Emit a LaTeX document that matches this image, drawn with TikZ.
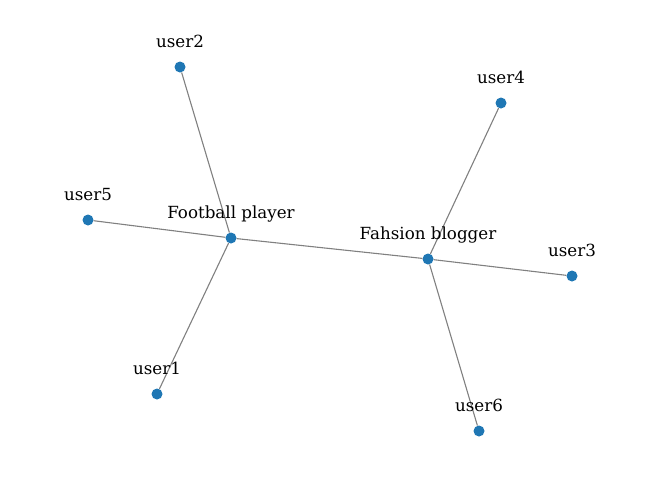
\documentclass[tikz,border=0pt]{standalone}
\usepackage{fontspec}
\setmainfont{DejaVu Serif}
\definecolor{nodeblue}{RGB}{31, 119, 180}
\definecolor{edgegray}{RGB}{128, 128, 128}
\usetikzlibrary{positioning, calc}

\begin{document}
\begin{tikzpicture}[x=1pt, y=-1pt,
  dot/.style={circle, fill=nodeblue, inner sep=0pt, minimum size=11pt},
  lbl/.style={font=\fontsize{16.7}{19}\selectfont, anchor=base},
  edge/.style={draw=edgegray, line width=1.1pt}]
  \useasboundingbox (0, 0) rectangle (660, 499);

  % nodes
  \node[dot] (fp) at (231, 238) {};
  \node[dot] (fb) at (428, 259) {};
  \node[dot] (u1) at (157, 394) {};
  \node[dot] (u2) at (180, 67) {};
  \node[dot] (u3) at (572, 276) {};
  \node[dot] (u4) at (501, 103) {};
  \node[dot] (u5) at (88, 220) {};
  \node[dot] (u6) at (479, 431) {};

  % edges
  \draw[edge] (u2) -- (fp);
  \draw[edge] (u5) -- (fp);
  \draw[edge] (u1) -- (fp);
  \draw[edge] (fp) -- (fb);
  \draw[edge] (fb) -- (u4);
  \draw[edge] (fb) -- (u3);
  \draw[edge] (fb) -- (u6);

  % labels
  \node[lbl] at ($(fp)+(0,-20)$) {Football player};
  \node[lbl] at ($(fb)+(0,-20)$) {Fahsion blogger};
  \node[lbl] at ($(u1)+(0,-20)$) {user1};
  \node[lbl] at ($(u2)+(0,-20)$) {user2};
  \node[lbl] at ($(u3)+(0,-20)$) {user3};
  \node[lbl] at ($(u4)+(0,-20)$) {user4};
  \node[lbl] at ($(u5)+(0,-20)$) {user5};
  \node[lbl] at ($(u6)+(0,-20)$) {user6};
\end{tikzpicture}
\end{document}
